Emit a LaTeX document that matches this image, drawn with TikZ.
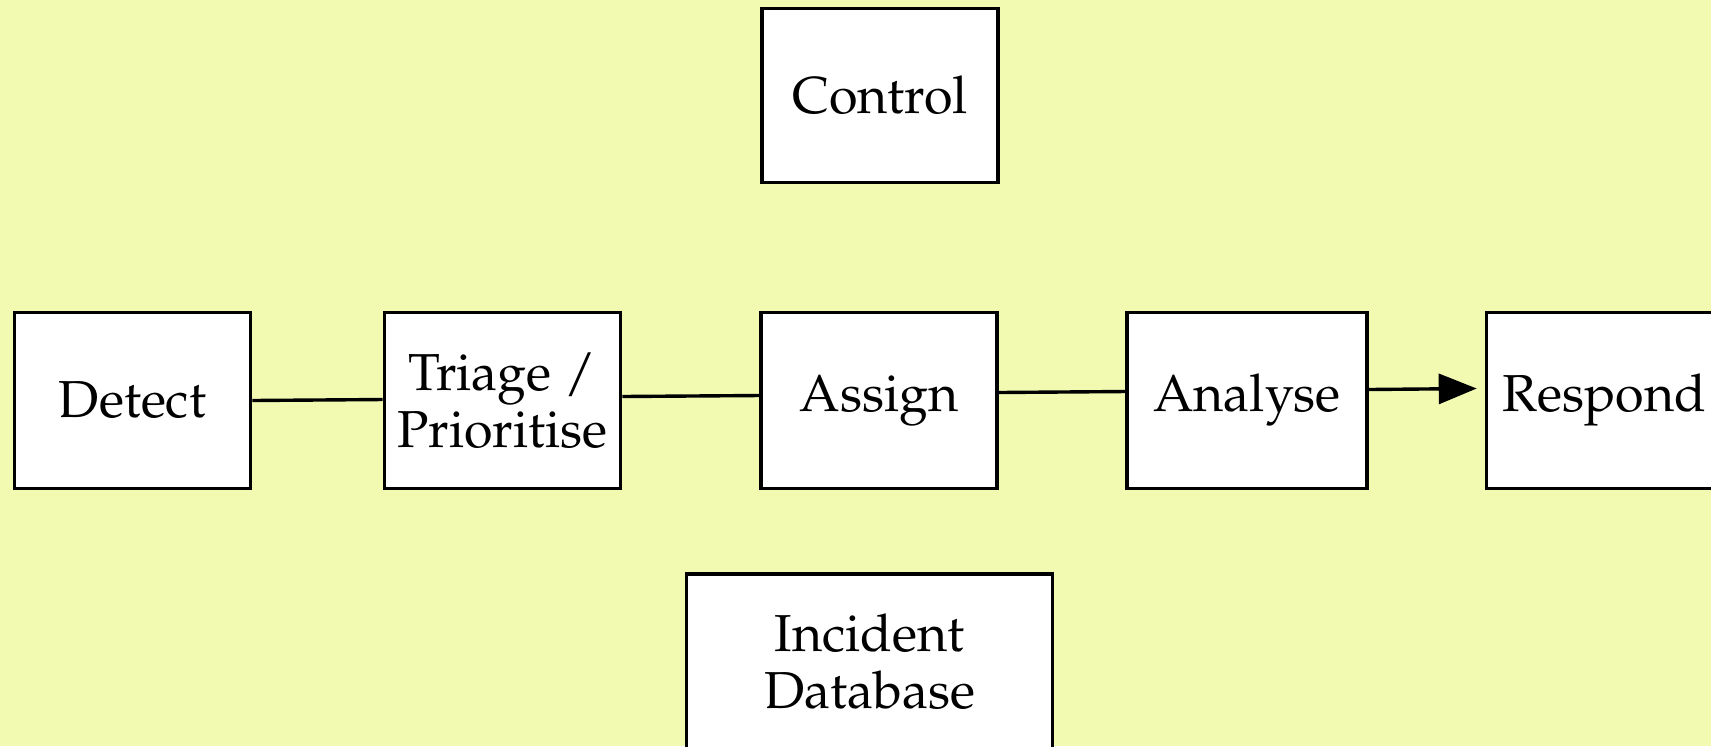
\documentclass[tikz,border=0pt]{standalone}
\usepackage[T1]{fontenc}
\usepackage{mathpazo}
\usetikzlibrary{arrows.meta}
\definecolor{paper}{RGB}{242,250,178}
\tikzset{
  stage/.style={draw=black, fill=white, line width=1.8pt,
    minimum width=118pt, minimum height=88pt, inner sep=0pt,
    align=center, font=\fontsize{26}{28.5}\selectfont},
  link/.style={line width=1.7pt, draw=black},
}
\begin{document}
\begin{tikzpicture}[x=0.5pt, y=-0.5pt]
  % canvas
  \fill[paper] (0,0) rectangle (1711,746);
  \useasboundingbox (0,0) rectangle (1711,746);
  \clip (0,0) rectangle (1711,746);

  % process stages
  \node[stage] (det) at (132.5,400.5) {Detect};
  \node[stage] (tri) at (502.5,400.5) {Triage /\\Prioritise};
  \node[stage] (asg) at (879,400.5) {Assign};
  \node[stage, minimum width=120pt] (ana) at (1247,400.5) {Analyse};
  \node[stage] (res) at (1604.5,400.5) {Respond};

  % supporting boxes
  \node[stage, minimum height=87pt] (ctl) at (880,95.5) {Control};
  \node[stage, minimum width=183pt] (db) at (869.5,662) {Incident\\Database};

  % connectors
  \draw[link] (det.east) -- ([yshift=0.5pt]tri.west);
  \draw[link] ([yshift=2pt]tri.east) -- ([yshift=2.5pt]asg.west);
  \draw[link] ([yshift=4pt]asg.east) -- ([yshift=4.5pt]ana.west);
  \draw[link, -{Triangle[length=19pt,width=15pt]}]
    ([yshift=5.5pt]ana.east) -- ([xshift=-4pt,yshift=6pt]res.west);
\end{tikzpicture}
\end{document}
